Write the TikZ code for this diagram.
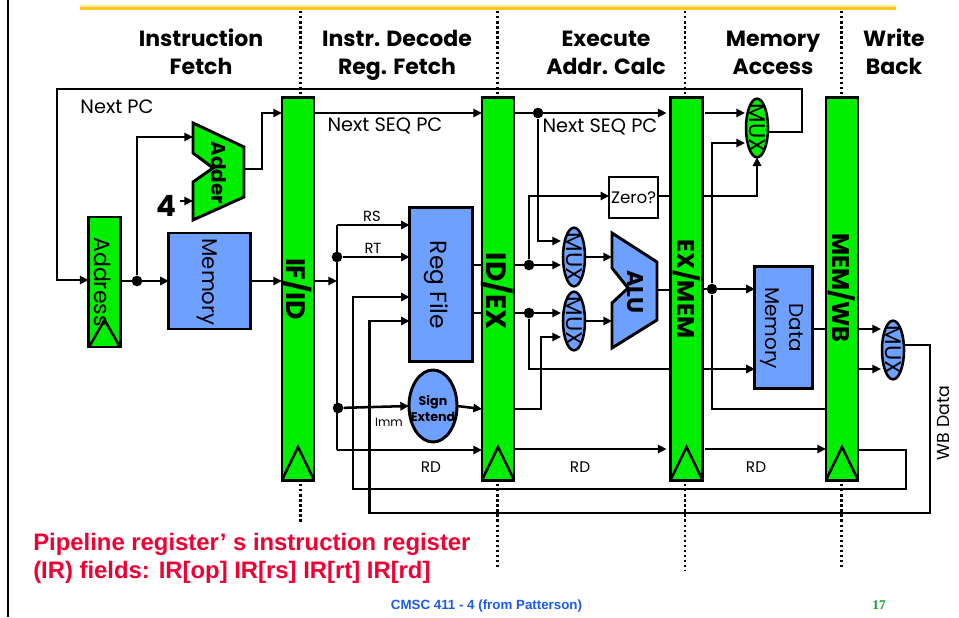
\documentclass[tikz,border=0pt]{standalone}
\usepackage{fontspec}
\setmainfont{Liberation Sans}
\newfontfamily\comic{Poppins}
\newfontfamily\serifx{Liberation Serif}
\usetikzlibrary{arrows.meta,shapes.geometric}
\definecolor{gr}{RGB}{0,238,0}
\definecolor{bl}{RGB}{110,160,255}
\definecolor{redt}{RGB}{240,0,50}
\definecolor{blt}{RGB}{30,90,240}
\definecolor{grt}{RGB}{20,160,40}
\definecolor{gold}{RGB}{255,200,30}
\definecolor{goldl}{RGB}{255,235,150}
\tikzset{
 x=0.75pt,y=-0.75pt,
 wire/.style={line width=1.9pt,line join=miter},
 arr/.style={wire,-{Triangle[length=6.5pt,width=6.2pt]}},
 box/.style={draw,line width=2.2pt,inner sep=0pt,outer sep=0pt},
 pipereg/.style={box,fill=gr,minimum width=24pt,minimum height=287pt},
 blue box/.style={box,fill=bl},
 muxe/.style={ellipse,draw,line width=1.9pt,inner sep=0pt,outer sep=0pt,minimum width=16.5pt,minimum height=44pt},
 dotj/.style={circle,fill=black,inner sep=0pt,minimum size=8pt},
 sep/.style={line width=1.8pt,dash pattern=on 1.8pt off 2pt},
 clk/.style={line width=1.9pt,line join=miter},
 head/.style={font=\comic\bfseries\fontsize{16.5}{21}\selectfont,align=center,inner sep=0pt},
 lab/.style={font=\comic\fontsize{14.5}{16}\selectfont,inner sep=0pt},
 smalllab/.style={font=\comic\fontsize{#1}{12}\selectfont,inner sep=0pt},
 rtxt/.style={font=\comic\fontsize{#1}{18}\selectfont,inner sep=0pt,rotate=-90},
 rbold/.style={font=\comic\bfseries\fontsize{#1}{#1}\selectfont,inner sep=0pt,rotate=-90},
}
\begin{document}
\begin{tikzpicture}
\useasboundingbox (0,0) rectangle (959,617);
\fill[white] (0,0) rectangle (959,617);
% slide furniture
\coordinate (lt) at (8,0); \coordinate (lb) at (8,617);
\draw[line width=1.2pt] (lt) -- (lb);
\coordinate (gl) at (80,8); \coordinate (gr) at (896,8);
\draw[gold,line width=3.6pt] (gl) -- (gr);
\draw[goldl,line width=1pt] (80,6) -- (896,6);
% stage separators
\foreach \n/\x/\e in {a/300.5/522,b/497.5/569,c/685/571,d/841.5/569}{
  \coordinate (s\n t) at (\x,11); \coordinate (s\n m) at (\x,96);
  \coordinate (s\n u) at (\x,484); \coordinate (s\n b) at (\x,\e);
  \draw[sep] (s\n t) -- (s\n m);
  \draw[sep] (s\n u) -- (s\n b);
}
% headings
\node[head] (h1) at (201,55) {\strut Instruction\\\strut Fetch};
\node[head] (h2) at (397,55) {\strut Instr. Decode\\\strut Reg. Fetch};
\node[head] (h3) at (606,55) {\strut Execute\\\strut Addr. Calc};
\node[head] (h4) at (773,55) {\strut Memory\\\strut Access};
\node[head] (h5) at (894,55) {\strut Write\\\strut Back};
% blocks
\node[pipereg] (ifid) at (298,289) {};
\node[pipereg] (idex) at (498,289) {};
\node[pipereg] (exmem) at (686.5,289) {};
\node[pipereg] (memwb) at (842,289) {};
\node[box,fill=gr,minimum width=24pt,minimum height=97.5pt] (pc) at (104.5,282) {};
\node[blue box,minimum width=61pt,minimum height=72pt] (imem) at (209.5,281) {};
\node[blue box,minimum width=47pt,minimum height=116pt] (regs) at (441,284.5) {};
\node[blue box,minimum width=43pt,minimum height=91pt] (dmem) at (783.5,327.5) {};
\node[box,fill=white,line width=1.6pt,minimum width=36.5pt,minimum height=30.5pt] (zero) at (633.5,197.5) {};
\node[ellipse,draw,fill=bl,line width=2.2pt,inner sep=0pt,outer sep=0pt,minimum width=36pt,minimum height=54pt] (sext) at (433,406) {};
\node[muxe,fill=bl] (m1) at (574,257) {};
\node[muxe,fill=bl] (m2) at (574,321) {};
\node[muxe,fill=gr] (m3) at (757,128) {};
\node[muxe,fill=bl] (m4) at (893,350) {};
% clock triangles
\draw[clk] (89,347) -- (104.5,320) -- (120,347);
\draw[clk] (282,480) -- (298,447) -- (314,480);
\draw[clk] (482,480) -- (498,447) -- (514,480);
\draw[clk] (670.5,480) -- (686.5,447) -- (702.5,480);
\draw[clk] (826,480) -- (842,447) -- (858,480);
% adder and ALU
\draw[line width=2.2pt,fill=gr,line join=miter] (193,123) coordinate (addt) -- (244,147) -- (244,197) -- (193,220) coordinate (addb) -- (193,182) -- (213,168) -- (193,153) -- cycle;
\coordinate (addout) at (244,169);
\coordinate (addi1) at (193,137);
\coordinate (addi2) at (193,201);
\draw[line width=2.2pt,fill=bl,line join=miter] (612,233) -- (657,262) -- (657,320) -- (612,348) -- (612,303) -- (628,288) -- (612,268) -- cycle;
\coordinate (aluout) at (657,290);
\coordinate (alui1) at (612,257);
\coordinate (alui2) at (612,321);
% labels in blocks
\node[rtxt=16.5] (t1) at (103,282) {Address};
\node[rtxt=16] (t2) at (207,282) {Memory};
\node[rtxt=17.5] (t3) at (436,285) {Reg File};
\node[rbold=15] (t4) at (219,173) {Adder};
\node[rbold=20] (t5) at (297,289) {IF/ID};
\node[rbold=21] (t6) at (497,291) {ID/EX};
\node[rbold=18] (t7) at (686.5,289) {EX/MEM};
\node[rbold=18] (t8) at (842,288) {MEM/WB};
\node[rbold=17] (t9) at (635,292) {ALU};
\node[rtxt=15,align=center] (t10) at (782,328) {Data\\Memory};
\node[rtxt=17] (t11) at (574,257) {MUX};
\node[rtxt=17] (t12) at (574,321) {MUX};
\node[rtxt=17] (t13) at (757,128) {MUX};
\node[rtxt=17] (t14) at (893,350) {MUX};
\node[font=\comic\bfseries\fontsize{9.5}{12}\selectfont,align=center,inner sep=0pt] (t15) at (433,408) {Sign\\Extend};
\node[font=\comic\fontsize{12.5}{14}\selectfont,inner sep=0pt] (t16) at (633.5,198) {Zero?};
\node[font=\comic\bfseries\fontsize{22}{22}\selectfont,inner sep=0pt] (four) at (166,206) {4};
% wires
\coordinate (busr) at (337,281);
\node[dotj] (d1) at (137,281) {};
\draw[arr] (m3.east |- 0,132) -- (802,132) -- (802,89) -- (57,89) -- (57,280) -- (pc.west |- 0,280);
\draw[arr] (pc.east |- 0,281) -- (imem.west |- 0,281);
\draw[arr] (d1) -- (137,137) -- (addi1);
\draw[arr] (four.east |- 0,201) ++(4,0) -- (addi2);
\draw[arr] (addout) -- (262,169) -- (262,113) -- (ifid.west |- 0,113);
\draw[arr] (imem.east |- 0,281) -- (ifid.west |- 0,281);
\draw[arr] (ifid.east |- 0,113) -- (idex.west |- 0,113);
\draw[arr] (ifid.east |- 0,281) -- (busr);
\node[dotj] (d2) at (337,257) {};
\node[dotj] (d3) at (338,408) {};
\draw[wire] (337,225) -- (337,450);
\draw[arr] (337,225) -- (regs.west |- 0,225);
\draw[arr] (d2) -- (regs.west |- 0,257);
\draw[arr] (d3) -- (sext.west);
\draw[arr] (337,450) -- (idex.west |- 0,450);
\draw[arr] (memwb.east |- 0,450) -- (906,450) -- (906,489) -- (353,489) -- (353,297) -- (regs.west |- 0,297);
\draw[arr] (m4.east |- 0,345) -- (930,345) -- (930,513) -- (369.5,513) -- (369.5,321) -- (regs.west |- 0,321);
\draw[wire] (regs.east |- 0,265) -- (idex.west |- 0,265);
\draw[wire] (regs.east |- 0,313) -- (idex.west |- 0,313);
\draw[arr] (sext.east) -- (idex.west |- 0,409);
% EX stage
\node[dotj] (d4) at (538,113) {};
\node[dotj] (d5) at (529,265) {};
\node[dotj] (d6) at (529,313) {};
\draw[arr] (idex.east |- 0,113) -- ([xshift=-3pt]exmem.west |- 0,113);
\draw[arr] (d4) -- (538,241) -- (561,241);
\draw[arr] (idex.east |- 0,265) -- (561,265);
\draw[arr] (idex.east |- 0,313) -- (561,313);
\draw[arr] (d5) -- (529,196) -- (zero.west |- 0,196);
\draw[wire] (d6) -- (529,369) -- (exmem.west |- 0,369);
\draw[arr] (exmem.east |- 0,369) -- (dmem.west |- 0,369);
\draw[arr] (idex.east |- 0,409) -- (541,409) -- (541,337) -- (561,337);
\draw[arr] (m1.east) -- (alui1);
\draw[arr] (m2.east) -- (alui2);
\draw[wire] (aluout) -- (exmem.west |- aluout);
\draw[wire] (zero.east |- 0,196) -- (exmem.west |- 0,196);
\draw[arr] (exmem.east |- 0,196) -- (757,196) -- (m3.south);
\node[dotj] (d7) at (712,289) {};
\draw[arr] (exmem.east |- 0,289) -- (dmem.west |- 0,289);
\draw[arr] (d7) -- (712,143) -- (745,143);
\draw[wire] (d7) -- (712,409) -- (memwb.west |- 0,409);
\draw[arr] ([xshift=2pt]exmem.east |- 0,113) -- (745,113);
\draw[arr] (idex.east |- 0,449) -- ([xshift=-3pt]exmem.west |- 0,449);
\draw[arr] ([xshift=2pt]exmem.east |- 0,449) -- (memwb.west |- 0,449);
\draw[wire] (dmem.east |- 0,329) -- (memwb.west |- 0,329);
\draw[arr] (memwb.east |- 0,329) -- (881,329);
\draw[arr] (memwb.east |- 0,369) -- (881,369);
% free labels
\node[lab] (l1) at (117,107) {Next PC};
\node[lab] (l2) at (385,125.5) {Next SEQ PC};
\node[lab] (l3) at (600,126.5) {Next SEQ PC};
\node[smalllab=11] (l4) at (372,216) {RS};
\node[smalllab=11] (l5) at (373,248) {RT};
\node[smalllab=9] (l6) at (389,422) {Imm};
\node[smalllab=11.5] (l7) at (431,467) {RD};
\node[smalllab=11.5] (l8) at (580,467) {RD};
\node[smalllab=11.5] (l9) at (756,467) {RD};
\node[font=\comic\fontsize{13}{14}\selectfont,inner sep=0pt,rotate=90] (l10) at (944,423) {WB Data};
% caption
\node[anchor=west,text=redt,font=\bfseries\fontsize{17.9}{21}\selectfont,align=left,inner sep=0pt] (cap) at (33,558) {Pipeline register’ s instruction register\\(IR) fields: IR[op] IR[rs] IR[rt] IR[rd]};
\node[text=blt,font=\bfseries\fontsize{10}{12}\selectfont,inner sep=0pt] (foot) at (486.5,606) {CMSC 411 - 4 (from Patterson)};
\node[text=grt,font=\serifx\bfseries\fontsize{10}{12}\selectfont,inner sep=0pt] (pg) at (879,605) {17};
\end{tikzpicture}
\end{document}
